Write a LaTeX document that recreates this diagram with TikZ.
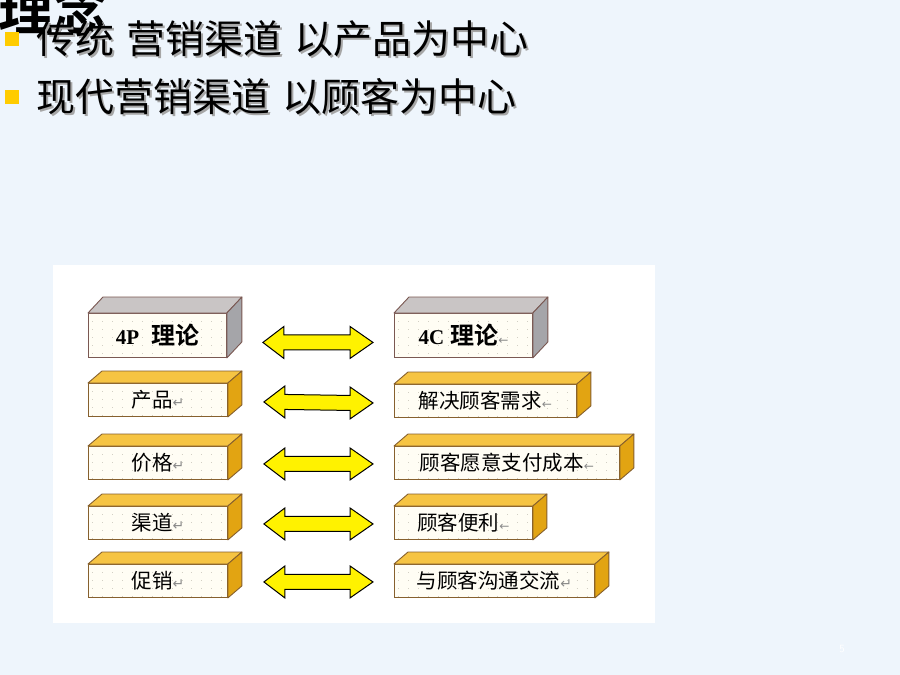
\documentclass[tikz,border=0pt]{standalone}
\usepackage{fontspec}
\setmainfont{Liberation Serif}
\newfontfamily\cjk{Noto Sans CJK SC}[BoldFont={Noto Sans CJK SC Bold}]
\newfontfamily\symb{DejaVu Sans}
\usetikzlibrary{calc, positioning}

\definecolor{slidebg}{HTML}{EEF5FC}
\definecolor{bulletyel}{HTML}{FFCC00}
\definecolor{goldtop}{HTML}{F6C443}
\definecolor{goldside}{HTML}{E2A412}
\definecolor{goldline}{HTML}{86602E}
\definecolor{greytop}{HTML}{C9C5C5}
\definecolor{greyside}{HTML}{A5A5A9}
\definecolor{brownline}{HTML}{7A5852}
\definecolor{facecream}{HTML}{FFFDF4}
\definecolor{dotcol}{HTML}{D2CFC4}
\definecolor{markgrey}{HTML}{8A8A8A}

\newcommand{\retsym}{{\symb\color{markgrey}\fontsize{14}{14}\selectfont ↵}}
\newcommand{\arrsym}{{\symb\color{markgrey}\fontsize{12}{12}\selectfont ←}}

\tikzset{
  dotgrid/.style={path picture={
      \foreach \k in {1,...,5}
        \draw[dotcol, line width=0.9pt, dash pattern=on 0.9pt off 9pt]
          ($(path picture bounding box.north west)+(4,\k*8)$) --
          ($(path picture bounding box.north east)+(0,\k*8)$);}},
  headface/.style={draw=brownline, fill=facecream, line width=0.9pt, anchor=north west,
      inner sep=0pt, minimum height=44pt, dotgrid},
  rowface/.style={draw=goldline, fill=facecream, line width=0.9pt, anchor=north west,
      inner sep=0pt, minimum height=33pt, dotgrid, font=\cjk\fontsize{20.5}{20.5}\selectfont},
  headtop/.style={draw=brownline, fill=greytop, line width=0.9pt, line join=round},
  headside/.style={draw=brownline, fill=greyside, line width=0.9pt, line join=round},
  rowtop/.style={draw=goldline, fill=goldtop, line width=0.9pt, line join=round},
  rowside/.style={draw=goldline, fill=goldside, line width=0.9pt, line join=round},
  bigarrow/.style={draw=black, fill=yellow, line width=1pt, line join=miter},
  bulletsq/.style={fill=bulletyel, minimum size=14pt, inner sep=0pt},
  slidetext/.style={anchor=west, inner sep=0pt, font=\cjk\fontsize{39}{39}\selectfont},
  shadowtext/.style={slidetext, text=black!35},
}

\begin{document}
\begin{tikzpicture}[x=1pt, y=-1pt]
  \useasboundingbox (0,0) rectangle (900,675);
  \fill[slidebg] (0,0) rectangle (900,675);

  % title and bullet lines
  \node[anchor=west, inner sep=0pt, font=\cjk\bfseries\fontsize{55}{55}\selectfont] (title) at (-2,8) {理念};
  \node[bulletsq] (b1) at (12,39) {};
  \node[bulletsq] (b2) at (12,97) {};
  \node[shadowtext] (l1s) at (38,41) {传统\hspace{12pt}营销渠道\hspace{12pt}以产品为中心};
  \node[slidetext] (l1) at (36,39) {传统\hspace{12pt}营销渠道\hspace{12pt}以产品为中心};
  \node[shadowtext] (l2s) at (38,99) {现代营销渠道\hspace{12pt}以顾客为中心};
  \node[slidetext] (l2) at (36,97) {现代营销渠道\hspace{12pt}以顾客为中心};

  % picture panel
  \fill[white] (53,265) rectangle (655,623);

  % 4P column
  \node[headface, minimum width=138pt] (p0) at (88,313)
    {{\bfseries\fontsize{21}{21}\selectfont 4P}\hspace{12pt}{\cjk\bfseries\fontsize{24}{24}\selectfont 理论}};
  \node[rowface, minimum width=139pt] (p1) at (88,383) {产品\retsym};
  \node[rowface, minimum width=139pt] (p2) at (88,446) {价格\retsym};
  \node[rowface, minimum width=139pt] (p3) at (88,506) {渠道\retsym};
  \node[rowface, minimum width=139pt] (p4) at (88,564) {促销\retsym};

  % 4C column
  \node[headface, minimum width=138pt] (c0) at (394,313)
    {{\bfseries\fontsize{21}{21}\selectfont 4C}\hspace{6pt}{\cjk\bfseries\fontsize{24}{24}\selectfont 理论}\arrsym};
  \node[rowface, minimum width=182pt] (c1) at (394,384) {解决顾客需求\arrsym};
  \node[rowface, minimum width=225pt] (c2) at (394,446) {顾客愿意支付成本\arrsym};
  \node[rowface, minimum width=138pt] (c3) at (394,506) {顾客便利\arrsym};
  \node[rowface, minimum width=200pt] (c4) at (394,564) {与顾客沟通交流\retsym};

  % box depth
  \foreach \b in {p0,c0} {
    \draw[headtop] (\b.north west) -- ++(15,-16) -- ($(\b.north east)+(15,-16)$) -- (\b.north east) -- cycle;
    \draw[headside] (\b.north east) -- ++(15,-16) -- ($(\b.south east)+(15,-16)$) -- (\b.south east) -- cycle;
  }
  \foreach \b in {p1,p2,p3,p4,c1,c2,c3,c4} {
    \draw[rowtop] (\b.north west) -- ++(14,-12) -- ($(\b.north east)+(14,-12)$) -- (\b.north east) -- cycle;
    \draw[rowside] (\b.north east) -- ++(14,-12) -- ($(\b.south east)+(14,-12)$) -- (\b.south east) -- cycle;
  }

  % double arrows between the columns
  \foreach \i/\dy in {0/7,1/2,2/1,3/1,4/1} {
    \coordinate (al\i) at ($(p\i.east)+(36,\dy)$);
    \coordinate (ar\i) at ($(c\i.west)+(-21,\dy)$);
    \draw[bigarrow] (al\i) -- ($(al\i)+(21,-16)$) -- ($(al\i)+(21,-7.5)$) -- ($(ar\i)+(-23,-7.5)$)
      -- ($(ar\i)+(-23,-16)$) -- (ar\i) -- ($(ar\i)+(-23,16)$) -- ($(ar\i)+(-23,7.5)$)
      -- ($(al\i)+(21,7.5)$) -- ($(al\i)+(21,16)$) -- cycle;
  }

  \node[text=white, font=\sffamily\fontsize{11}{11}\selectfont] (pg) at (842,649) {5};
\end{tikzpicture}
\end{document}
